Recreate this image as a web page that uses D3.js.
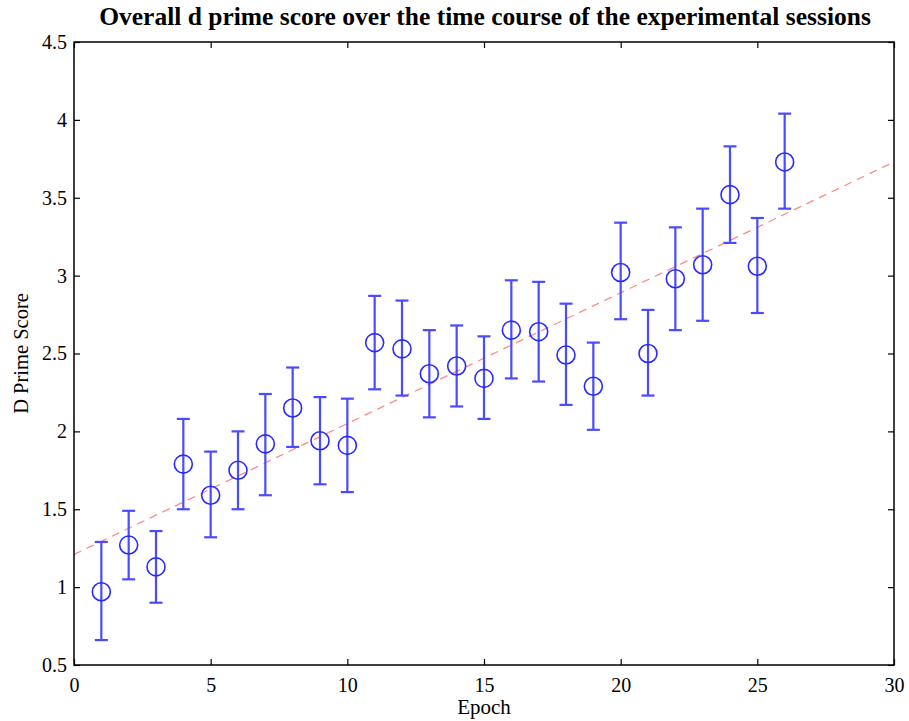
<!DOCTYPE html>
<html><head><meta charset="utf-8">
<script src="https://cdn.jsdelivr.net/npm/d3@7"></script>
<style>body{margin:0;background:#fff}svg{display:block}</style>
</head><body><svg id="c" width="909" height="721"></svg>
<script>
const epochs = [1,2,3,4,5,6,7,8,9,10,11,12,13,14,15,16,17,18,19,20,21,22,23,24,25,26];
const means  = [0.97,1.27,1.13,1.79,1.59,1.75,1.92,2.15,1.94,1.91,2.57,2.53,2.37,2.42,2.34,2.65,2.64,2.49,2.29,3.02,2.50,2.98,3.07,3.52,3.06,3.73];
const upper  = [1.29,1.49,1.36,2.08,1.87,2.00,2.24,2.41,2.22,2.21,2.87,2.84,2.65,2.68,2.61,2.97,2.96,2.82,2.57,3.34,2.78,3.31,3.43,3.83,3.37,4.04];
const lower  = [0.66,1.05,0.90,1.50,1.32,1.50,1.59,1.90,1.66,1.61,2.27,2.23,2.09,2.16,2.08,2.34,2.32,2.17,2.01,2.72,2.23,2.65,2.71,3.21,2.76,3.43];
const trendX = [0,30];
const trendY = [1.21,3.73];
const xTicks = [0,5,10,15,20,25,30];
const yTicks = [0.5,1,1.5,2,2.5,3,3.5,4,4.5];

const svg = d3.select("#c");
const L=74,R=894,T=42,B=665;
const x = d3.scaleLinear().domain([0,30]).range([L,R]);
const y = d3.scaleLinear().domain([0.5,4.5]).range([B,T]);
const font = "'Liberation Serif','Times New Roman',serif";

// trend line
svg.append("line").attr("x1",x(trendX[0])).attr("y1",y(trendY[0])).attr("x2",x(trendX[1])).attr("y2",y(trendY[1]))
  .attr("stroke","#ff8a8a").attr("stroke-width",1.3).attr("stroke-dasharray","8,6");

// error bars
const blue = "#4a4aff";
const g = svg.append("g");
epochs.forEach((e,i)=>{
  const cx = x(e);
  g.append("line").attr("x1",cx).attr("x2",cx).attr("y1",y(upper[i])).attr("y2",y(lower[i])).attr("stroke",blue).attr("stroke-width",2.2);
  [upper[i],lower[i]].forEach(v=>{
    g.append("line").attr("x1",cx-6.5).attr("x2",cx+6.5).attr("y1",y(v)).attr("y2",y(v)).attr("stroke",blue).attr("stroke-width",2.2);
  });
});
epochs.forEach((e,i)=>{
  g.append("circle").attr("cx",x(e)).attr("cy",y(means[i])).attr("r",9).attr("fill","none").attr("stroke","#2a2aff").attr("stroke-width",1.6);
});

// axes box with inward ticks
svg.append("rect").attr("x",L).attr("y",T).attr("width",R-L).attr("height",B-T).attr("fill","none").attr("stroke","#000").attr("stroke-width",1.5);
const xb = svg.append("g").attr("transform",`translate(0,${B})`).call(d3.axisBottom(x).tickValues(xTicks).tickSize(-6).tickPadding(13).tickFormat(d3.format("d")));
const xt = svg.append("g").attr("transform",`translate(0,${T})`).call(d3.axisTop(x).tickValues(xTicks).tickSize(-6).tickFormat(""));
const yl = svg.append("g").attr("transform",`translate(${L},0)`).call(d3.axisLeft(y).tickValues(yTicks).tickSize(-6).tickPadding(7).tickFormat(d=>String(d)));
const yr = svg.append("g").attr("transform",`translate(${R},0)`).call(d3.axisRight(y).tickValues(yTicks).tickSize(-6).tickFormat(""));
[xb,xt,yl,yr].forEach(a=>{
  a.select(".domain").remove();
  a.selectAll(".tick line").attr("stroke","#000").attr("stroke-width",1.2);
  a.selectAll("text").attr("font-family",font).attr("font-size",20).attr("fill","#000");
});

svg.append("text").attr("x",485).attr("y",25).attr("text-anchor","middle").attr("font-family",font)
  .attr("font-weight","bold").attr("font-size",25.5).text("Overall d prime score over the time course of the experimental sessions");
svg.append("text").attr("x",(L+R)/2).attr("y",714).attr("text-anchor","middle").attr("font-family",font)
  .attr("font-size",21).text("Epoch");
svg.append("text").attr("transform",`translate(28,${(T+B)/2}) rotate(-90)`).attr("text-anchor","middle").attr("font-family",font)
  .attr("font-size",20.5).text("D Prime Score");
</script></body></html>
